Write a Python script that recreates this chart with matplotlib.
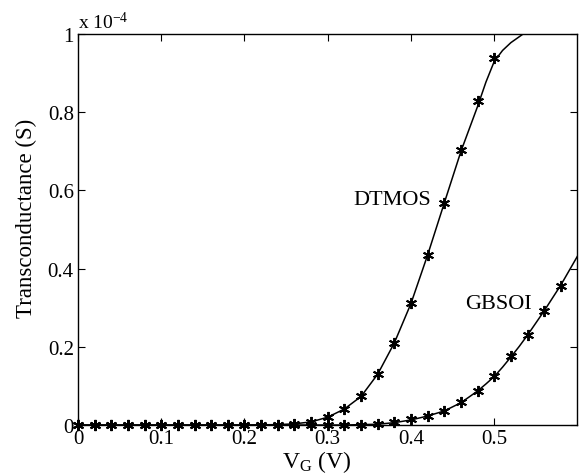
import matplotlib
matplotlib.use("Agg")
import matplotlib.pyplot as plt
import numpy as np

plt.rcParams['font.family'] = ['Liberation Serif', 'DejaVu Serif']
plt.rcParams['mathtext.fontset'] = 'custom'
plt.rcParams['mathtext.rm'] = 'Liberation Serif'
plt.rcParams['mathtext.it'] = 'Liberation Serif:italic'

# gate voltage grid of the measured points (V)
vg_meas = [0.00, 0.02, 0.04, 0.06, 0.08, 0.10, 0.12, 0.14, 0.16, 0.18,
           0.20, 0.22, 0.24, 0.26, 0.28, 0.30, 0.32, 0.34, 0.36, 0.38,
           0.40, 0.42, 0.44, 0.46, 0.48, 0.50, 0.52, 0.54, 0.56, 0.58]

# transconductance in units of 1e-4 S (markers)
dtmos_meas = [0, 0, 0, 0, 0, 0, 0, 0, 0, 0,
              0, 0, 0, 0.003, 0.008, 0.020, 0.041, 0.073, 0.130, 0.210,
              0.311, 0.435, 0.568, 0.704, 0.828, 0.938]
gbsoi_meas = [0, 0, 0, 0, 0, 0, 0, 0, 0, 0,
              0, 0, 0, 0, 0, 0, 0, 0.001, 0.002, 0.008,
              0.015, 0.024, 0.036, 0.058, 0.087, 0.126, 0.176, 0.230, 0.292, 0.356]

# simulated curves (solid lines)
vg_sim = [0.00, 0.20, 0.24, 0.26, 0.28, 0.30, 0.32, 0.34, 0.36, 0.38,
          0.40, 0.42, 0.44, 0.46, 0.48, 0.49, 0.50, 0.51, 0.52, 0.53, 0.54,
          0.56, 0.58, 0.60]
dtmos_sim = [0, 0, 0.001, 0.003, 0.008, 0.020, 0.041, 0.073, 0.130, 0.210,
             0.311, 0.435, 0.568, 0.700, 0.815, 0.877, 0.930, 0.958, 0.978, 0.993, 1.008,
             1.03, 1.05, 1.07]
gbsoi_sim = [0, 0, 0, 0, 0, 0, 0, 0.001, 0.002, 0.006,
             0.013, 0.023, 0.036, 0.057, 0.087, 0.105, 0.124, 0.148, 0.174, 0.201, 0.230,
             0.292, 0.358, 0.432]

fig = plt.figure(figsize=(5.79, 4.77), dpi=100)
ax = fig.add_axes([0.1347, 0.1069, 0.862, 0.8197])

ax.plot(vg_sim, dtmos_sim, color='black', linewidth=1.1)
ax.plot(vg_sim, gbsoi_sim, color='black', linewidth=1.1)
star = (6, 2, 0)
ax.plot(vg_meas[:len(dtmos_meas)], dtmos_meas, linestyle='none', marker=star,
        color='black', markersize=8, markeredgewidth=1.4, clip_on=False)
ax.plot(vg_meas[:len(gbsoi_meas)], gbsoi_meas, linestyle='none', marker=star,
        color='black', markersize=8, markeredgewidth=1.4, clip_on=False)

ax.set_xlim(0, 0.5995)
ax.set_ylim(0, 1)
ax.set_xticks([0, 0.1, 0.2, 0.3, 0.4, 0.5])
ax.set_xticklabels(['0', '0.1', '0.2', '0.3', '0.4', '0.5'])
ax.set_yticks([0, 0.2, 0.4, 0.6, 0.8, 1.0])
ax.set_yticklabels(['0', '0.2', '0.4', '0.6', '0.8', '1'])
ax.tick_params(direction='in', top=True, right=True, length=5, width=0.8,
               labelsize=15, pad=3)
for s in ax.spines.values():
    s.set_linewidth(1.0)

ax.set_xlabel('V$_\\mathrm{G}$ (V)', fontsize=17, labelpad=0)
ax.xaxis.set_label_coords(0.479, -0.06, transform=ax.transAxes)
ax.xaxis.label.set_va('top')
ax.set_ylabel('Transconductance (S)', fontsize=16.5)
ax.yaxis.set_label_coords(-0.083, 0.53)
ax.text(0.0, 1.005, 'x 10$^{-4}$', transform=ax.transAxes, fontsize=14,
        ha='left', va='bottom')

ax.text(0.378, 0.578, 'DTMOS', fontsize=16, ha='center', va='center')
ax.text(0.505, 0.31, 'GBSOI', fontsize=16, ha='center', va='center')

fig.savefig('out.png', dpi=100)
